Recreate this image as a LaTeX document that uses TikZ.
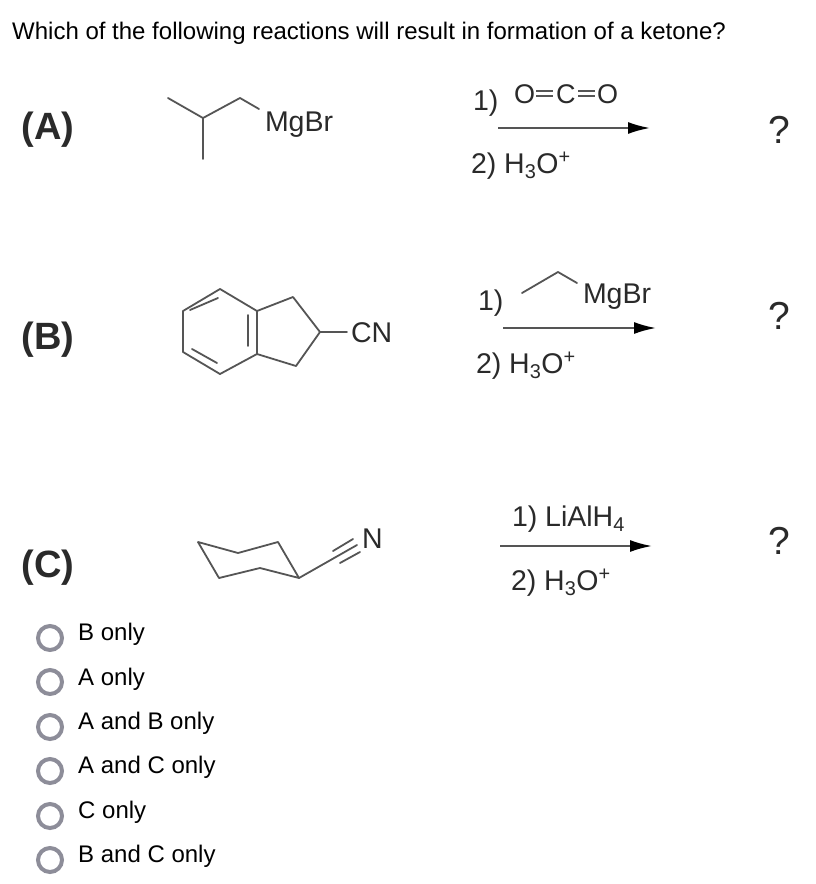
\documentclass[tikz,border=0pt]{standalone}
\usepackage{fontspec}
\setmainfont{Liberation Sans}
\usetikzlibrary{arrows.meta}
\definecolor{ink}{HTML}{2A2A2A}
\definecolor{radio}{HTML}{8D8D99}
\definecolor{bond}{HTML}{555555}
\newcommand{\fs}[1]{\fontsize{#1}{#1}\selectfont}
\tikzset{
 x=1pt,y=-1pt,
 lab/.style={inner sep=0pt,outer sep=0pt,anchor=base west,text=ink,font=\fs{28.5}},
 atomo/.style={inner sep=0pt,outer sep=0pt,anchor=base west,text=ink,font=\fs{27}},
 qtext/.style={inner sep=0pt,anchor=base west,text=black,font=\fs{24}},
 tag/.style={inner sep=0pt,text=ink,font=\fs{38}\bfseries},
 qm/.style={inner sep=0pt,text=ink,font=\fs{39}},
 opt/.style={inner sep=0pt,anchor=base west,text=black,font=\fs{24}},
 radiob/.style={circle,draw=radio,line width=4pt,minimum size=24pt,inner sep=0pt},
 bnd/.style={draw=bond,line width=1.8pt,line cap=round,line join=round},
 rarrow/.style={draw=bond,line width=2pt,-{Latex[length=22pt,width=12pt,black]}},
}
\begin{document}
\begin{tikzpicture}
\useasboundingbox[fill=white] (0,0) rectangle (816,884);
\node[qtext] (title) at (12,39) {Which of the following reactions will result in formation of a ketone?};
\node[tag] (A) at (48,130) {(A)};
\node[tag] (B) at (48,340) {(B)};
\node[tag] (C) at (48,568) {(C)};
% A molecule
\draw[bnd] (168,98) -- (203,118) -- (240,98) -- (259,109);
\draw[bnd] (203,118) -- (203,159);
\node[lab] (mgbrA) at (265,131) {MgBr};
% B molecule
\draw[bnd] (220,289) -- (257,311) -- (257,354) -- (220,374) -- (183,352) -- (183,311) -- cycle;
\draw[bnd] (257,311) -- (293,297) -- (320,332) -- (296,366) -- (257,354);
\draw[bnd] (248,315) -- (248,346);
\draw[bnd] (190,310) -- (218,298);
\draw[bnd] (192,349) -- (217,363);
\coordinate (cnb) at (347,332);
\draw[bnd] (320,332) -- (cnb);
\node[lab] (cn) at (351,342) {CN};
% C molecule
\draw[bnd] (198,542) -- (238,553) -- (278,542) -- (299,578) -- (260,568) -- (219,578) -- cycle;
\draw[bnd] (299,578) -- (357,545);
\draw[bnd] (333,551) -- (353,539);
\draw[bnd] (340,563) -- (360,552);
\node[lab] (N) at (362,548) {N};
% Reaction A
\node[lab] (a1) at (473,110) {1)};
\node[atomo] (o1) at (514,103) {O};
\node[atomo] (cc) at (556,103) {C};
\node[atomo] (o2) at (597,103) {O};
\draw[bond,line width=1.4pt] (536,91) -- (553,91) (536,96) -- (553,96);
\draw[bond,line width=1.4pt] (578,91) -- (595,91) (578,96) -- (595,96);
\coordinate (a1s) at (498,128); \coordinate (a1e) at (650,128);
\draw[rarrow] (a1s) -- (a1e);
\node[lab] (a2) at (471,173) {2) H\textsubscript{3}O\textsuperscript{+}};
\node[qm] (qa) at (779,130) {?};
% Reaction B
\node[lab] (b1) at (478,310) {1)};
\draw[bnd] (522,293) -- (558,272) -- (577,283);
\node[lab] (mgbrB) at (583,303) {MgBr};
\coordinate (b1s) at (503,328); \coordinate (b1e) at (656,328);
\draw[rarrow] (b1s) -- (b1e);
\node[lab] (b2) at (476,373) {2) H\textsubscript{3}O\textsuperscript{+}};
\node[qm] (qb) at (779,316) {?};
% Reaction C
\node[lab] (c1) at (512,526) {1) LiAlH\textsubscript{4}};
\coordinate (c1s) at (500,546); \coordinate (c1e) at (652,546);
\draw[rarrow] (c1s) -- (c1e);
\node[lab] (c2) at (511,590) {2) H\textsubscript{3}O\textsuperscript{+}};
\node[qm] (qc) at (779,541) {?};
% Options
\node[radiob] (r1) at (50,638) {};
\node[radiob] (r2) at (50,682) {};
\node[radiob] (r3) at (50,727) {};
\node[radiob] (r4) at (50,771) {};
\node[radiob] (r5) at (50,816) {};
\node[radiob] (r6) at (50,860) {};
\node[opt] (t1) at (78,640) {B only};
\node[opt] (t2) at (78,685) {A only};
\node[opt] (t3) at (78,729) {A and B only};
\node[opt] (t4) at (78,773) {A and C only};
\node[opt] (t5) at (78,818) {C only};
\node[opt] (t6) at (78,862) {B and C only};
\end{tikzpicture}
\end{document}
